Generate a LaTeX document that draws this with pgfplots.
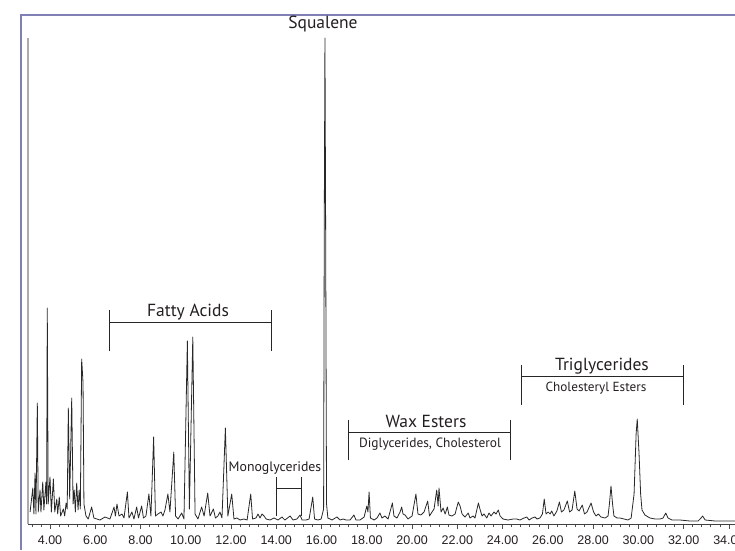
\documentclass[border=0pt]{standalone}
\usepackage{pgfplots}
\pgfplotsset{compat=1.18}
\usepackage{fontspec}
\setmainfont{Liberation Sans}
\newfontfamily\annfont{PT Sans}
\definecolor{framec}{RGB}{128,128,180}
\definecolor{tracec}{RGB}{40,40,40}
\definecolor{textc}{RGB}{35,31,32}
\begin{document}
\begin{tikzpicture}[x=1pt,y=1pt]
\path[use as bounding box] (0,0) rectangle (735,550);
\begin{axis}[at={(28pt,26pt)}, anchor=south west, scale only axis,
  width=707pt, height=486pt,
  xmin=3.028, xmax=34.27, ymin=0, ymax=486,
  axis x line=bottom, axis y line=left, axis line style={-},
  y axis line style={gray!65, line width=1.3pt},
  x axis line style={black!75, line width=0.8pt},
  ytick=\empty, xtick={4,6,...,34},
  minor xtick={3.2,3.6,...,34.0},
  tick align=outside, major tick length=5pt, minor tick length=3pt,
  tick style={black!70, line width=0.6pt},
  /pgf/number format/assume math mode=true,
  xticklabel={\pgfmathprintnumber[fixed,fixed zerofill,precision=2]{\tick}},
  xticklabel style={font=\fontsize{12.5}{12.5}\selectfont, text=textc, yshift=-3pt},
  clip=false]
\addplot[tracec, line width=0.8pt, line join=round] coordinates {
(3.12,12) (3.24,36) (3.29,10) (3.34,51) (3.38,10) (3.44,121) (3.48,12) (3.56,34) (3.60,12) (3.68,42) (3.73,14) (3.82,42) (3.85,20) (3.88,216) (3.92,20) (4.00,47) (4.06,12) (4.15,45) (4.21,12) (4.30,25) (4.34,10) (4.41,27) (4.47,8) (4.59,15) (4.65,8) (4.71,21) (4.76,15) (4.81,116) (4.87,25) (4.96,126) (5.02,20) (5.07,34) (5.12,12) (5.18,41) (5.24,14) (5.29,34) (5.34,15) (5.40,165) (5.46,141) (5.50,20) (5.59,8) (5.69,5) (5.84,17) (5.94,6) (6.21,4) (6.43,7) (6.65,5) (6.83,17) (6.89,8) (6.96,20) (7.05,8) (7.18,10) (7.27,6) (7.42,32) (7.49,6) (7.62,12) (7.71,5) (7.83,17) (7.91,6) (8.05,18) (8.13,6) (8.24,8) (8.37,30) (8.46,8) (8.58,87) (8.66,8) (8.77,10) (8.91,12) (8.99,8) (9.08,14) (9.21,30) (9.30,12) (9.47,72) (9.55,8) (9.66,5) (9.82,11) (9.92,5) (10.07,183) (10.16,15) (10.31,187) (10.41,10) (10.54,5) (10.70,17) (10.81,8) (10.97,31) (11.07,8) (11.22,15) (11.31,6) (11.42,8) (11.51,12) (11.60,6) (11.75,96) (11.86,8) (12.03,30) (12.13,5) (12.26,6) (12.40,4) (12.57,5) (12.71,4) (12.87,30) (12.95,5) (13.10,6) (13.19,10) (13.28,6) (13.37,10) (13.46,8) (13.55,5) (13.72,4) (13.90,6) (14.08,4) (14.25,7) (14.38,4) (14.61,8) (14.74,4) (14.91,5) (15.05,9) (15.14,4) (15.31,4) (15.45,5) (15.61,27) (15.69,5) (15.84,4) (15.98,5) (16.09,15) (16.12,300) (16.15,486) (16.18,300) (16.22,20) (16.28,6) (16.46,4) (16.68,7) (16.82,4) (16.95,5) (17.08,4) (17.26,4) (17.43,9) (17.52,4) (17.70,4) (17.88,7) (18.00,18) (18.05,12) (18.10,32) (18.16,6) (18.32,4) (18.45,6) (18.58,11) (18.67,6) (18.80,8) (18.94,5) (19.13,21) (19.20,8) (19.33,6) (19.47,12) (19.54,17) (19.60,10) (19.69,9) (19.82,5) (20.00,8) (20.17,30) (20.26,10) (20.39,9) (20.53,12) (20.69,23) (20.77,8) (20.88,12) (20.97,15) (21.09,34) (21.15,18) (21.19,36) (21.28,12) (21.37,16) (21.46,10) (21.56,17) (21.63,9) (21.76,8) (21.90,10) (22.04,22) (22.12,18) (22.21,10) (22.34,7) (22.48,11) (22.56,6) (22.69,8) (22.78,6) (22.93,21) (23.00,15) (23.09,8) (23.18,10) (23.30,6) (23.40,11) (23.49,8) (23.62,12) (23.71,10) (23.81,14) (23.89,8) (24.02,5) (24.24,4) (24.46,5) (24.62,5) (24.77,4) (24.95,6) (25.07,7) (25.17,4) (25.30,6) (25.43,7) (25.52,5) (25.65,6) (25.76,10) (25.84,25) (25.92,10) (26.01,12) (26.10,10) (26.17,13) (26.27,8) (26.40,13) (26.51,22) (26.60,12) (26.71,14) (26.86,23) (26.96,12) (27.07,14) (27.19,33) (27.29,15) (27.38,13) (27.52,19) (27.62,10) (27.73,12) (27.91,21) (28.02,12) (28.13,8) (28.23,10) (28.35,7) (28.53,6) (28.66,8) (28.72,20) (28.79,38) (28.86,20) (28.92,8) (29.06,6) (29.19,6) (29.37,5) (29.54,4) (29.68,6) (29.81,30) (29.90,90) (29.95,105) (30.03,70) (30.10,30) (30.16,14) (30.29,9) (30.51,6) (30.74,5) (30.96,5) (31.09,6) (31.21,11) (31.31,6) (31.49,4) (31.84,4) (32.28,3) (32.64,3) (32.73,5) (32.84,8) (32.95,4) (33.39,3) (34.27,3)
};
\end{axis}
\draw[framec, line width=1.5pt] (21,0) -- (21,535) -- (735,535);
\begin{scope}[black!85, line width=0.9pt]
\draw (109.5,199) -- (109.5,240) (109.5,228) -- (271,228) (271,199) -- (271,240);
\draw (276.7,34) -- (276.7,73) (276.7,62) -- (301,62) (301,34) -- (301,73);
\draw (348,90) -- (348,130) (348,118) -- (510,118) (510,90) -- (510,130);
\draw (521.7,145) -- (521.7,185) (521.7,174) -- (683.3,174) (683.3,145) -- (683.3,185);
\end{scope}
\begin{scope}[every node/.style={text=textc, inner sep=0pt, anchor=base}]
\node[font=\annfont\fontsize{17.5}{17.5}\selectfont] at (323,521) {Squalene};
\node[font=\annfont\fontsize{17.5}{17.5}\selectfont] at (188,234) {Fatty Acids};
\node[font=\annfont\fontsize{13.8}{13.8}\selectfont] at (275,79) {Monoglycerides};
\node[font=\annfont\fontsize{17.5}{17.5}\selectfont] at (426,123) {Wax Esters};
\node[font=\annfont\fontsize{13.4}{13.4}\selectfont] at (430,103) {Diglycerides, Cholesterol};
\node[font=\annfont\fontsize{17.5}{17.5}\selectfont] at (602,180) {Triglycerides};
\node[font=\annfont\fontsize{13.2}{13.2}\selectfont] at (596,159) {Cholesteryl Esters};
\end{scope}
\end{tikzpicture}
\end{document}
